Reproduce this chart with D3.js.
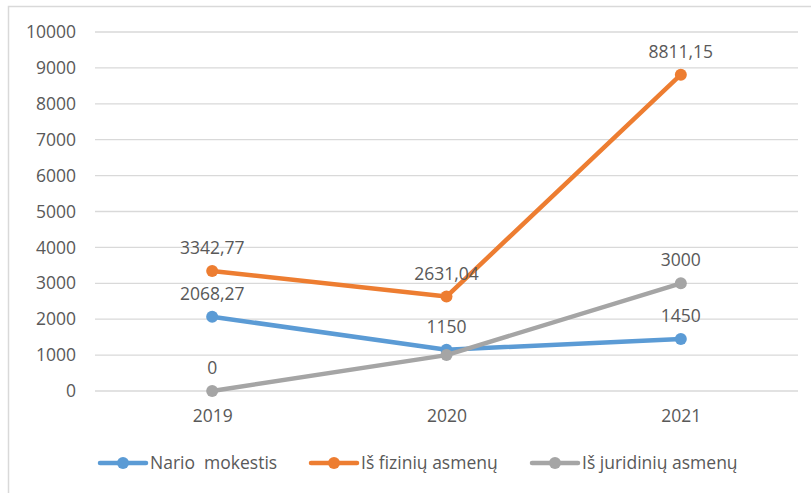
<!DOCTYPE html>
<html lang="lt">
<head>
    <meta charset="UTF-8" />
    <title>Pajamos 2019-2021</title>
    <script src="https://d3js.org/d3.v7.min.js"></script>
    <style>
        body { margin: 0; background: #fff; }
        text { font-family: "Open Sans", "Noto Sans", sans-serif; fill: #595959; }
    </style>
</head>
<body>
<script>
    // Chart data
    var years = ["2019", "2020", "2021"];
    var narioMokestis = [2068.27, 1150, 1450];
    var fiziniuAsmenu = [3342.77, 2631.04, 8811.15];
    var juridiniuAsmenu = [0, 1000, 3000];
    var seriesNames = ["Nario  mokestis", "Iš fizinių asmenų", "Iš juridinių asmenų"];
    var seriesColors = ["#5B9BD5", "#ED7D31", "#A5A5A5"];
    // which points carry a data label (the 2020 grey one has none)
    var showLabels = [[true, true, true], [true, true, true], [true, false, true]];
    var yTicks = [0, 1000, 2000, 3000, 4000, 5000, 6000, 7000, 8000, 9000, 10000];

    var w = 811, h = 493;
    var margin = { top: 32, right: 13, bottom: 102, left: 95 };
    var fontSize = "17.5px";

    var svg = d3.select("body").append("svg")
        .attr("width", w)
        .attr("height", h);

    // outer frame
    svg.append("rect")
        .attr("x", 8.5).attr("y", 6.5)
        .attr("width", w + 20).attr("height", h + 20)
        .attr("fill", "none")
        .attr("stroke", "#D9D9D9")
        .attr("stroke-width", 1.5);

    var x = d3.scalePoint()
        .domain(years)
        .range([margin.left, w - margin.right])
        .padding(0.5);

    var y = d3.scaleLinear()
        .domain([0, 10000])
        .range([h - margin.bottom, margin.top]);

    // gridlines
    svg.append("g")
        .selectAll("line")
        .data(yTicks)
        .enter()
        .append("line")
        .attr("x1", margin.left)
        .attr("x2", w - margin.right)
        .attr("y1", function (d) { return y(d); })
        .attr("y2", function (d) { return y(d); })
        .attr("stroke", "#D9D9D9")
        .attr("stroke-width", 1.3);

    // y axis labels
    var yAxis = svg.append("g")
        .attr("transform", "translate(" + (margin.left - 19) + ",0)")
        .call(d3.axisLeft(y).tickValues(yTicks).tickFormat(d3.format("d")).tickSize(0).tickPadding(0));
    yAxis.select(".domain").remove();
    yAxis.selectAll("text").style("font-size", fontSize).attr("fill", "#595959");

    // x axis labels
    var xAxis = svg.append("g")
        .attr("transform", "translate(0," + (h - margin.bottom) + ")")
        .call(d3.axisBottom(x).tickSize(0).tickPadding(19));
    xAxis.select(".domain").remove();
    xAxis.selectAll("text").style("font-size", fontSize).attr("fill", "#595959");

    var allSeries = [narioMokestis, fiziniuAsmenu, juridiniuAsmenu];

    var line = d3.line()
        .x(function (d, i) { return x(years[i]); })
        .y(function (d) { return y(d); });

    allSeries.forEach(function (values, s) {
        var g = svg.append("g");
        g.append("path")
            .datum(values)
            .attr("d", line)
            .attr("fill", "none")
            .attr("stroke", seriesColors[s])
            .attr("stroke-width", 4.5)
            .attr("stroke-linejoin", "round");
        g.selectAll("circle")
            .data(values)
            .enter()
            .append("circle")
            .attr("cx", function (d, i) { return x(years[i]); })
            .attr("cy", function (d) { return y(d); })
            .attr("r", 6)
            .attr("fill", seriesColors[s]);
    });

    // data labels
    var fmt = function (v) { return String(v).replace(".", ","); };
    allSeries.forEach(function (values, s) {
        svg.append("g")
            .selectAll("text")
            .data(values.map(function (d, i) { return { v: d, i: i }; })
                .filter(function (d) { return showLabels[s][d.i]; }))
            .enter()
            .append("text")
            .attr("x", function (d) { return x(years[d.i]); })
            .attr("y", function (d) { return y(d.v) - 17; })
            .attr("text-anchor", "middle")
            .style("font-size", fontSize)
            .text(function (d) { return fmt(d.v); });
    });

    // legend
    var legendX = [100, 311, 532];
    var legend = svg.append("g").attr("transform", "translate(0,463)");
    seriesNames.forEach(function (name, s) {
        var item = legend.append("g").attr("transform", "translate(" + legendX[s] + ",0)");
        item.append("line")
            .attr("x1", 0).attr("x2", 46)
            .attr("stroke", seriesColors[s])
            .attr("stroke-width", 4.5)
            .attr("stroke-linecap", "round");
        item.append("circle")
            .attr("cx", 23).attr("r", 6)
            .attr("fill", seriesColors[s]);
        item.append("text")
            .attr("x", 50)
            .attr("dy", "0.35em")
            .style("font-size", fontSize)
            .attr("xml:space", "preserve")
            .text(name);
    });
</script>
</body>
</html>
